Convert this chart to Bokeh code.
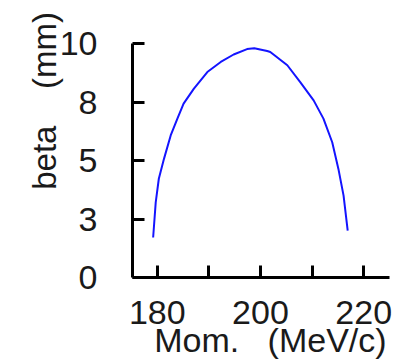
from bokeh.plotting import figure
from bokeh.models import Range1d, FixedTicker
from bokeh.embed import file_html
from bokeh.resources import INLINE

# data
mom = [179.2, 179.7, 180.3, 181.3, 182.6, 183.9, 185.1, 187.1, 189.7, 192.3, 194.8,
       197.4, 198.8, 201.3, 201.9, 205.2, 207.7, 210.3, 212.2, 213.9, 215.1, 216.1, 216.9]
beta = [1.71, 3.21, 4.22, 5.07, 6.07, 6.79, 7.43, 8.07, 8.78, 9.21, 9.53,
        9.76, 9.80, 9.68, 9.64, 9.07, 8.35, 7.57, 6.79, 5.78, 4.64, 3.50, 2.0]

x_ticks = [180, 190, 200, 210, 220]
x_tick_labels = ["180", "", "200", "", "220"]
y_ticks = [0, 2.5, 5, 7.5, 10]
y_tick_labels = ["0", "3", "5", "8", "10"]
NB = "\u00a0"
x_label = NB * 2 + "Mom." + NB * 3 + "(MeV/c)"
y_label = NB * 13 + "beta" + NB * 4 + "(mm)"

FONT = "Liberation Sans"
TXT = "#1a1a1a"

p = figure(width=403, height=364, output_backend="svg", toolbar_location=None,
           x_range=Range1d(175.2, 225.0), y_range=Range1d(0, 10),
           min_border_left=132, min_border_right=14, min_border_top=43, min_border_bottom=87)
p.outline_line_color = None
p.grid.visible = False
p.background_fill_color = "white"
p.border_fill_color = "white"

p.line(mom, beta, line_color="#1414ff", line_width=2)

for ax in (p.xaxis[0], p.yaxis[0]):
    ax.axis_line_width = 3
    ax.axis_line_color = "black"
    ax.major_tick_line_width = 3
    ax.major_tick_in = 12
    ax.major_tick_out = 0
    ax.minor_tick_line_color = None
    ax.major_label_text_font = FONT
    ax.major_label_text_font_size = "34px"
    ax.major_label_text_color = TXT
    ax.axis_label_text_font = FONT
    ax.axis_label_text_font_style = "normal"
    ax.axis_label_text_color = TXT

p.xaxis[0].ticker = FixedTicker(ticks=x_ticks)
p.xaxis[0].major_label_overrides = {t: l for t, l in zip(x_ticks, x_tick_labels)}
p.xaxis[0].major_label_standoff = 23
p.xaxis[0].axis_label = x_label
p.xaxis[0].axis_label_text_font_size = "34px"
p.xaxis[0].axis_label_standoff = -6

p.yaxis[0].ticker = FixedTicker(ticks=y_ticks)
p.yaxis[0].major_label_overrides = {t: l for t, l in zip(y_ticks, y_tick_labels)}
p.yaxis[0].major_label_standoff = 35
p.yaxis[0].axis_label = y_label
p.yaxis[0].axis_label_text_font_size = "33px"
p.yaxis[0].axis_label_standoff = -6

open("out.html", "w").write(file_html(p, INLINE))
